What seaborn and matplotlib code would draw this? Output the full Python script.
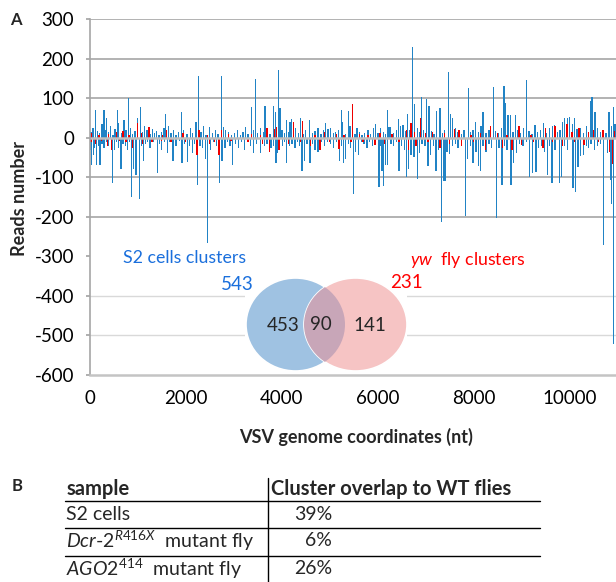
import numpy as np
import pandas as pd
import matplotlib.pyplot as plt
from matplotlib.patches import Ellipse, Rectangle
from matplotlib.lines import Line2D
import seaborn as sns

sns.set_theme(style="white")
plt.rcParams['font.family'] = ['Lato', 'DejaVu Sans']
plt.rcParams['axes.unicode_minus'] = False
plt.rcParams['mathtext.fontset'] = 'custom'
plt.rcParams['mathtext.rm'] = 'Lato'
plt.rcParams['mathtext.it'] = 'Lato:italic'
plt.rcParams['mathtext.bf'] = 'Lato:bold'

BLUE = '#2183c5'
RED = '#ee0000'
W, H = 616, 582

# ---- panel A: small RNA reads along the VSV genome (nt, reads)
S2_SENSE = [
    (30, 15), (70, 25), (129, 70), (170, 18), (210, 12), (260, 35), (302, 70), (330, 20), (358, 50),
    (400, 15), (440, 30), (490, 8), (530, 22), (580, 70), (610, 38), (660, 12), (719, 45), (760, 20),
    (816, 100), (850, 25), (900, 10), (950, 18), (1000, 50), (1057, 77), (1100, 15), (1150, 30),
    (1200, 20), (1260, 10), (1310, 22), (1360, 12), (1400, 18), (1450, 8), (1500, 15), (1550, 25),
    (1588, 60), (1640, 30), (1700, 12), (1750, 20), (1800, 8), (1850, 15), (1913, 65), (1960, 20),
    (2030, 10), (2100, 25), (2150, 12), (2220, 40), (2268, 155), (2320, 15), (2380, 30), (2430, 8),
    (2500, 28), (2560, 12), (2620, 20), (2680, 10), (2746, 156), (2790, 27), (2840, 20), (2900, 15),
    (2960, 8), (3020, 12), (3080, 20), (3150, 8), (3200, 15), (3250, 27), (3300, 10), (3371, 78),
    (3420, 20), (3456, 148), (3500, 12), (3560, 25), (3620, 15), (3656, 80), (3700, 22), (3760, 10),
    (3830, 80), (3870, 65), (3938, 170), (3970, 75), (4010, 20), (4060, 12), (4100, 45), (4150, 15),
    (4180, 40), (4210, 48), (4290, 25), (4350, 12), (4390, 50), (4450, 10), (4500, 20), (4580, 45),
    (4640, 12), (4700, 18), (4760, 25), (4820, 10), (4880, 20), (4920, 38), (4970, 22), (5020, 25),
    (5080, 12), (5130, 15), (5190, 20), (5247, 70), (5270, 40), (5330, 10), (5392, 68), (5430, 30),
    (5530, 10), (5570, 25), (5620, 15), (5680, 8), (5730, 12), (5800, 20), (5850, 10), (5910, 25),
    (5960, 35), (6010, 12), (6060, 25), (6120, 15), (6160, 10), (6205, 70), (6240, 27), (6270, 27),
    (6340, 12), (6390, 20), (6434, 48), (6480, 30), (6530, 32), (6580, 18), (6621, 60), (6680, 20),
    (6726, 229), (6775, 85), (6830, 25), (6870, 15), (6913, 103), (6960, 20), (7024, 98), (7070, 80),
    (7120, 18), (7180, 10), (7230, 68), (7302, 75), (7350, 12), (7400, 20), (7476, 165), (7520, 60),
    (7560, 50), (7620, 25), (7680, 15), (7750, 10), (7800, 20), (7892, 125), (7940, 15), (7990, 20),
    (8040, 40), (8100, 15), (8160, 30), (8200, 65), (8260, 12), (8320, 20), (8415, 128), (8460, 18),
    (8520, 12), (8580, 25), (8637, 130), (8660, 88), (8720, 58), (8770, 58), (8820, 15), (8870, 58),
    (8930, 20), (8980, 12), (9040, 25), (9108, 145), (9160, 18), (9220, 10), (9280, 33), (9340, 15),
    (9400, 20), (9460, 36), (9520, 12), (9580, 25), (9650, 30), (9690, 33), (9750, 15), (9800, 20),
    (9860, 40), (9900, 50), (9961, 50), (10000, 52), (10060, 35), (10110, 50), (10160, 22),
    (10230, 25), (10290, 12), (10350, 30), (10435, 93), (10470, 102), (10530, 65), (10580, 25),
    (10640, 15), (10700, 20), (10760, 12), (10823, 65), (10870, 30), (10913, 78), (10950, 35),
]
S2_ANTI = [
    (20, -30), (45, -70), (80, -45), (110, -25), (150, -70), (185, -20), (219, -70), (260, -15),
    (300, -25), (350, -12), (400, -20), (476, -115), (520, -30), (560, -10), (600, -25), (656, -80),
    (700, -15), (750, -20), (790, -30), (840, -12), (878, -150), (913, -78), (969, -95), (1038, -155),
    (1080, -20), (1120, -60), (1160, -15), (1210, -10), (1260, -25), (1330, -12), (1413, -90),
    (1460, -15), (1500, -30), (1560, -10), (1620, -40), (1680, -12), (1740, -60), (1800, -20),
    (1880, -8), (1930, -65), (1980, -15), (2036, -62), (2090, -20), (2140, -40), (2190, -15),
    (2255, -120), (2300, -20), (2350, -25), (2410, -55), (2462, -267), (2520, -30), (2580, -12),
    (2640, -20), (2705, -114), (2760, -60), (2820, -25), (2880, -10), (2930, -20), (2976, -70),
    (3040, -15), (3100, -25), (3160, -12), (3230, -30), (3300, -8), (3360, -20), (3420, -40),
    (3480, -15), (3560, -40), (3640, -20), (3700, -15), (3780, -25), (3830, -20), (3885, -65),
    (3910, -40), (3960, -12), (4020, -20), (4060, -10), (4108, -65), (4160, -20), (4220, -15),
    (4280, -25), (4340, -12), (4380, -20), (4427, -85), (4480, -60), (4530, -15), (4594, -65),
    (4650, -15), (4700, -30), (4760, -35), (4830, -12), (4900, -20), (4960, -10), (5020, -15),
    (5080, -25), (5140, -10), (5205, -60), (5250, -20), (5288, -65), (5330, -55), (5400, -15),
    (5440, -25), (5497, -143), (5540, -35), (5600, -45), (5660, -10), (5720, -15), (5780, -25),
    (5840, -12), (5900, -20), (5960, -15), (6032, -125), (6070, -20), (6094, -85), (6122, -122),
    (6170, -70), (6210, -70), (6280, -15), (6340, -20), (6390, -12), (6448, -85), (6500, -20),
    (6560, -30), (6608, -100), (6650, -78), (6700, -45), (6760, -50), (6830, -105), (6870, -40),
    (6930, -15), (6990, -20), (7050, -72), (7110, -45), (7160, -20), (7219, -85), (7270, -30),
    (7336, -213), (7380, -110), (7410, -110), (7450, -35), (7500, -42), (7560, -20), (7620, -15),
    (7680, -25), (7750, -12), (7831, -197), (7880, -55), (7940, -20), (7990, -65), (8050, -35),
    (8110, -72), (8150, -85), (8200, -20), (8260, -35), (8320, -15), (8380, -25), (8480, -203),
    (8530, -25), (8594, -120), (8650, -20), (8700, -30), (8781, -120), (8840, -65), (8900, -40),
    (8960, -15), (9030, -20), (9100, -10), (9163, -100), (9226, -90), (9301, -88), (9360, -25),
    (9420, -20), (9480, -35), (9538, -95), (9590, -20), (9635, -115), (9700, -30), (9788, -115),
    (9830, -100), (9900, -20), (9960, -30), (10070, -128), (10128, -138), (10180, -75),
    (10230, -47), (10290, -45), (10350, -20), (10400, -25), (10450, -15), (10520, -30),
    (10580, -20), (10640, -15), (10710, -271), (10790, -40), (10850, -106), (10880, -168),
    (10920, -522),
]
YW_SENSE = [
    (40, 12), (200, 8), (400, 10), (560, 15), (700, 18), (820, 8), (1000, 36), (1080, 12), (1240, 28),
    (1520, 8), (1600, 20), (1950, 12), (2280, 20), (2460, 8), (2750, 20), (2900, 10), (3380, 10),
    (3560, 8), (3700, 25), (3850, 22), (3900, 28), (4250, 40), (4434, 42), (4700, 8), (4900, 15),
    (5150, 10), (5300, 8), (5475, 85), (5620, 10), (5800, 8), (6050, 12), (6300, 10), (6600, 20),
    (6700, 38), (6770, 15), (6900, 50), (7000, 12), (7150, 15), (7400, 12), (7600, 22), (7700, 20),
    (7950, 8), (8150, 12), (8350, 30), (8500, 12), (8700, 8), (8950, 30), (9200, 8), (9500, 25),
    (9700, 30), (9950, 35), (10050, 15), (10200, 25), (10400, 15), (10500, 20), (10700, 20),
    (10940, 18),
]
YW_ANTI = [
    (30, -10), (120, -15), (250, -8), (380, -20), (460, -30), (620, -8), (760, -12), (900, -25),
    (1100, -15), (1300, -10), (1500, -8), (1700, -12), (2000, -10), (2240, -45), (2500, -15),
    (2600, -10), (2700, -45), (2950, -8), (3300, -10), (3600, -15), (3750, -35), (3950, -30),
    (4150, -15), (4400, -10), (4600, -20), (4800, -30), (5000, -12), (5200, -28), (5450, -10),
    (5700, -12), (5950, -18), (6150, -15), (6450, -10), (6650, -30), (6800, -20), (7050, -12),
    (7300, -25), (7500, -15), (7750, -22), (8000, -10), (8250, -30), (8600, -25), (8800, -30),
    (9000, -18), (9250, -10), (9450, -25), (9650, -12), (9850, -20), (10100, -10), (10300, -18),
    (10600, -12), (10830, -35), (10900, -66),
]

# ---- Venn counts
VENN_S2_ONLY, VENN_BOTH, VENN_YW_ONLY = 453, 90, 141
S2_TOTAL, YW_TOTAL = 543, 231

# ---- panel B table
SAMPLES = ['S2 cells', r'$\mathit{Dcr}$-$\mathit{2}^{\mathit{R416X}}$  mutant fly',
           r'$\mathit{AGO2}^{\mathit{414}}$  mutant fly']
OVERLAP = ['39%', '6%', '26%']

BAR_NT = 28


def px(x, y):
    return x / W, 1 - y / H


def draw_bars(ax, pts, color):
    df = pd.DataFrame(pts, columns=['nt', 'reads'])
    step = np.diff(np.unique(df['nt'])).min()
    sns.barplot(data=df, x='nt', y='reads', native_scale=True, width=BAR_NT / step,
                color=color, saturation=1, errorbar=None, linewidth=0, ax=ax)


fig = plt.figure(figsize=(W / 100, H / 100), dpi=100)
ax = fig.add_axes([89.5 / W, 1 - 375 / H, (W - 89.5) / W, (375 - 19) / H])

for y in [300, 200, 100, -100, -200]:
    ax.axhline(y, color='#a6a6a6', lw=1.2, zorder=0)
for y in [-400, -500]:
    ax.axhline(y, color='#d9d9d9', lw=1.0, zorder=0)

draw_bars(ax, S2_SENSE, BLUE)
draw_bars(ax, S2_ANTI, BLUE)
draw_bars(ax, YW_SENSE, RED)
draw_bars(ax, YW_ANTI, RED)
ax.axhline(0, color='#bfbfbf', lw=1.8, zorder=1.5)

ax.set_xlim(0, 10969)
ax.set_ylim(-600, 300)
ax.set_yticks(range(-600, 301, 100))
ax.set_xticks(range(0, 10001, 2000))
ax.set_xlabel('')
ax.set_ylabel('')
ax.tick_params(axis='y', length=3, color='#a6a6a6', pad=8, labelsize=13.5, labelcolor='black', left=True)
ax.tick_params(axis='x', length=0, pad=11, labelsize=13.5, labelcolor='black')
for s in ['top', 'right']:
    ax.spines[s].set_visible(False)
ax.spines['left'].set_color('#a6a6a6')
ax.spines['left'].set_linewidth(1.2)
ax.spines['bottom'].set_color('#c4c4c4')
ax.spines['bottom'].set_linewidth(1.8)

fig.text(*px(20, 198), 'Reads number', rotation=90, ha='center', va='center',
         fontsize=13, fontweight='bold')
fig.text(*px(356, 437), 'VSV genome coordinates (nt)', ha='center', va='center',
         fontsize=13, fontweight='bold')
fig.text(*px(16, 20), 'A', ha='center', va='center', fontsize=12, fontweight='bold')
fig.text(*px(17, 486), 'B', ha='center', va='center', fontsize=12, fontweight='bold')

# ---- Venn inset
vax = fig.add_axes([245 / W, 1 - 374 / H, 162 / W, 98 / H])
vax.set_xlim(0, 162)
vax.set_ylim(0, 98)
vax.axis('off')
vax.add_patch(Rectangle((0, 0), 1, 1, transform=vax.transAxes, color='white', zorder=0))
blue_c = Ellipse((50.5, 49.5), 99, 93, facecolor='#9fc2e2', edgecolor='white', lw=1.2, zorder=1)
pink_c = Ellipse((110.5, 49.5), 103, 93, facecolor='#f6c4c4', edgecolor='white', lw=1.2, zorder=2)
vax.add_patch(blue_c)
vax.add_patch(pink_c)
mid = Ellipse((50.5, 49.5), 99, 93, facecolor='#c8a6b8', edgecolor='none', zorder=3)
vax.add_patch(mid)
mid.set_clip_path(pink_c)
vax.text(38, 49, str(VENN_S2_ONLY), ha='center', va='center', fontsize=13.5, zorder=4)
vax.text(76, 50, str(VENN_BOTH), ha='center', va='center', fontsize=13.5, zorder=4)
vax.text(125, 49, str(VENN_YW_ONLY), ha='center', va='center', fontsize=13.5, zorder=4)

fig.text(*px(185, 258), 'S2 cells clusters', ha='center', va='center', fontsize=12.8, color='#1a6fdc')
fig.text(*px(237, 284), str(S2_TOTAL), ha='center', va='center', fontsize=13.5, color='#1a6fdc')
fig.text(*px(410, 260), r'$\mathit{yw}$  fly clusters', ha='left', va='center', fontsize=12.8, color='#ff0000')
fig.text(*px(406, 283), str(YW_TOTAL), ha='center', va='center', fontsize=13.5, color='#ff0000')

# ---- panel B table
row_y = [514, 541, 569]
fig.text(*px(67, 489), 'sample', ha='left', va='center', fontsize=14.5, fontweight='bold')
fig.text(*px(271, 489), 'Cluster overlap to WT flies', ha='left', va='center', fontsize=14.5,
         fontweight='bold')
for y, name, val in zip(row_y, SAMPLES, OVERLAP):
    fig.text(*px(66, y), name, ha='left', va='center', fontsize=14)
    fig.text(*px(332, y), val, ha='right', va='center', fontsize=14)
for y in [501, 528, 556]:
    fig.add_artist(Line2D([65 / W, 540 / W], [1 - y / H] * 2, color='black', lw=1.0))
fig.add_artist(Line2D([268 / W] * 2, [1 - 478 / H, 1 - 582 / H], color='black', lw=1.0))

fig.savefig('out.png', dpi=100)
